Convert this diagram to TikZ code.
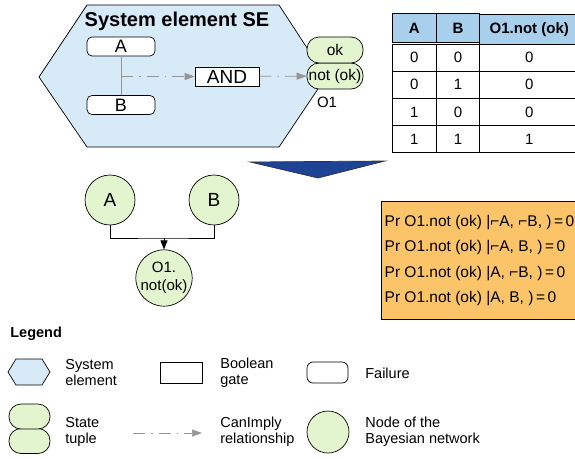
\documentclass[tikz,border=0pt]{standalone}
\usepackage{fontspec}
\setmainfont{Liberation Sans}
\usetikzlibrary{arrows.meta,matrix}
\definecolor{seblue}{RGB}{214,234,247}
\definecolor{tuplegreen}{RGB}{226,245,207}
\definecolor{hdrblue}{RGB}{168,207,236}
\definecolor{cptorange}{RGB}{252,196,104}
\definecolor{bigarrow}{RGB}{30,66,148}
\definecolor{implygray}{RGB}{150,150,150}

\begin{document}
\begin{tikzpicture}[x=1pt,y=-1pt,line width=0.7pt,
  failure/.style={draw,rounded corners=5pt,fill=white,minimum width=68pt,minimum height=19pt,inner sep=0pt,font=\fontsize{18}{18}\selectfont},
  gate/.style={draw,fill=white,minimum width=64pt,minimum height=19pt,inner sep=0pt,font=\fontsize{19}{19}\selectfont},
  tuple/.style={draw,fill=tuplegreen,rounded corners=12pt,minimum width=56pt,minimum height=26pt,inner sep=0pt,font=\fontsize{15.5}{15.5}\selectfont},
  bnnode/.style={draw,circle,fill=tuplegreen,minimum size=50pt,inner sep=0pt,font=\fontsize{19}{19}\selectfont},
  canimply/.style={draw=implygray,dash pattern=on 12pt off 6pt on 1.5pt off 6pt,-{Triangle[length=10pt,width=7pt]}},
  legendtext/.style={anchor=west,align=left,font=\fontsize{14.5}{16}\selectfont,inner sep=0pt},
]
\useasboundingbox (0,0) rectangle (575,458);

% system element
\filldraw[fill=seblue] (39,77) -- (87,5) -- (279,5) -- (326,77) -- (279,147) -- (87,147) -- cycle;
\node[font=\fontsize{20}{20}\selectfont\bfseries] (setitle) at (177,21) {System element SE};
\node[failure] (failA) at (121,46.5) {A};
\node[failure] (failB) at (121,105) {B};
\node[gate] (and) at (227,76.5) {AND};
\node[tuple] (notok) at (335,76) {not (ok)};
\node[tuple] (ok) at (335,50) {ok};
\node[font=\fontsize{15}{15}\selectfont] (o1) at (327,102) {O1};

\draw[implygray,line width=0.5pt] (failA) -- (failB);
\coordinate (fork) at (failA.south |- and.west);
\draw[canimply] (fork) -- (and);
\draw[canimply] (and) -- (notok);

% truth table
\matrix (truth) [matrix of nodes,anchor=north west,column sep=-0.7pt,row sep=-0.7pt,
  nodes={draw,fill=white,minimum height=27.2pt,inner sep=0pt,font=\fontsize{15}{15}\selectfont},
  column 1/.style={nodes={minimum width=44.7pt}},
  column 2/.style={nodes={minimum width=42.7pt}},
  column 3/.style={nodes={minimum width=99.7pt}},
  row 1/.style={nodes={fill=hdrblue,font=\fontsize{15}{15}\selectfont\bfseries,minimum height=29.7pt}}]
  at (388,9) {
A & B & O1.not (ok)\\
0 & 0 & 0\\
0 & 1 & 0\\
1 & 0 & 0\\
1 & 1 & 1\\
};

% transformation arrow
\filldraw[fill=bigarrow,draw=black!80] (250,162) -- (385,161) -- (318,178) -- cycle;

% bayesian network
\node[bnnode] (bnA) at (110,200) {A};
\node[bnnode] (bnB) at (214,200) {B};
\node[bnnode,minimum size=46pt,font=\fontsize{15}{18}\selectfont,align=center] (bnO) at (164,278) {O1.\\not(ok)};
\coordinate (merge) at (164,238);
\draw (bnA) |- (merge) -| (bnB);
\draw[-{Triangle[length=9pt,width=7pt]}] (merge) -- (bnO);

\node[draw,fill=cptorange,anchor=north west,minimum width=193pt,minimum height=118pt,align=left,
  font=\fontsize{15.5}{25.5}\selectfont] (cpt) at (381,201)
  {Pr O1.not (ok) |⌐A, ⌐B, )\,=\,0\\
   Pr O1.not (ok) |⌐A, B, )\,=\,0\\
   Pr O1.not (ok) |A, ⌐B, )\,=\,0\\
   Pr O1.not (ok) |A, B, )\,=\,0};

% legend
\node[font=\fontsize{14.5}{14.5}\selectfont\bfseries,anchor=west,inner sep=0pt] (legend) at (10,334) {Legend};
\filldraw[fill=seblue] (8,372) -- (16,359) -- (42,359) -- (50,372) -- (42,385) -- (16,385) -- cycle;
\node[legendtext] (lgsetxt) at (65,373) {System\\element};
\node[gate,minimum width=42pt,minimum height=21pt] (lggate) at (181,372.5) {};
\node[legendtext] (lggatetxt) at (220,373) {Boolean\\gate};
\node[failure,minimum width=41pt,minimum height=21pt,rounded corners=6pt] (lgfail) at (327.5,372.5) {};
\node[legendtext] (lgfailtxt) at (365,373) {Failure};
\node[tuple,minimum width=41pt,minimum height=25pt] (lgnot) at (29.5,441) {};
\node[tuple,minimum width=41pt,minimum height=25pt] (lgok) at (29.5,416.5) {};
\node[legendtext] (lgtupletxt) at (65,432) {State\\tuple};
\coordinate (lgfrom) at (133,433);
\coordinate (lgto) at (202,433);
\draw[canimply] (lgfrom) -- (lgto);
\node[legendtext] (lgimplytxt) at (220,432) {CanImply\\relationship};
\node[bnnode,minimum size=42pt] (lgbn) at (328,432) {};
\node[legendtext] (lgbntxt) at (365,432) {Node of the\\Bayesian network};
\end{tikzpicture}
\end{document}
